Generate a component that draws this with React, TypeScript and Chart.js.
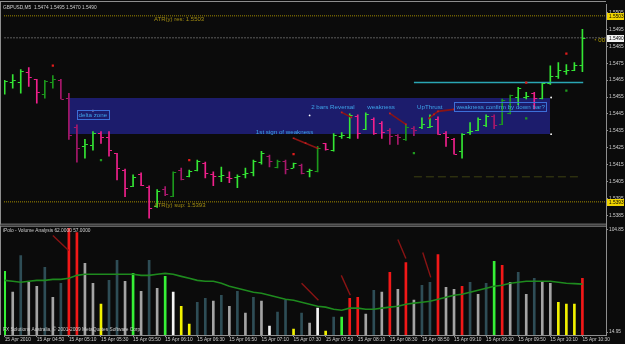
import { useEffect, useRef } from 'react';
import { Chart, registerables } from 'chart.js';

Chart.register(...registerables);

const FONT = '"Liberation Sans", Arial, sans-serif';
const BG = '#0b0b0b';

// ---------------- texts ----------------
const SYMBOL_TITLE = 'GBPUSD,M5  1.5474 1.5495 1.5470 1.5490';
const VOLUME_TITLE = 'iPolo - Volume Analysis 62.0000 57.0000';
const COPYRIGHT = 'FX Solutions Australia, \u00a9 2001-2009 MetaQuotes Software Corp.';
const TIMER_TEXT = '\u25d4 00';

// ---------------- axis ticks ----------------
const TIME_TICK_BARS = [0, 4, 8, 12, 16, 20, 24, 28, 32, 36, 40, 44, 48, 52, 56, 60, 64, 68, 72];
const TIME_TICK_LABELS = [
  '15 Apr 2010', '15 Apr 04:50', '15 Apr 05:10', '15 Apr 05:30', '15 Apr 05:50',
  '15 Apr 06:10', '15 Apr 06:30', '15 Apr 06:50', '15 Apr 07:10', '15 Apr 07:30',
  '15 Apr 07:50', '15 Apr 08:10', '15 Apr 08:30', '15 Apr 08:50', '15 Apr 09:10',
  '15 Apr 09:30', '15 Apr 09:50', '15 Apr 10:10', '15 Apr 10:30',
];
const PRICE_TICKS = [1.5505, 1.5495, 1.5485, 1.5475, 1.5465, 1.5455, 1.5445, 1.5435, 1.5425, 1.5415, 1.5405, 1.5395, 1.5385];
const VOLUME_TICKS = [14.95, 104.85];

// ---------------- price bars (M5, 04:30 .. 10:30) ----------------
const OPEN = [
  1.54607, 1.54636, 1.54636, 1.54695, 1.54654, 1.54567, 1.54636, 1.54648, 1.54543, 1.54375,
  1.54258, 1.54264, 1.54340, 1.54316, 1.54217, 1.54118, 1.54025, 1.54095, 1.54020, 1.53903,
  1.54008, 1.53967, 1.54118, 1.54084, 1.54118, 1.54159, 1.54095, 1.54084, 1.54078, 1.54078,
  1.54095, 1.54107, 1.54165, 1.54200, 1.54136, 1.54171, 1.54130, 1.54148, 1.54113, 1.54113,
  1.54276, 1.54235, 1.54322, 1.54316, 1.54439, 1.54363, 1.54421, 1.54398, 1.54357, 1.54328,
  1.54299, 1.54369, 1.54375, 1.54375, 1.54421, 1.54340, 1.54299, 1.54229, 1.54345, 1.54357,
  1.54386, 1.54439, 1.54392, 1.54456, 1.54549, 1.54549, 1.54572, 1.54543, 1.54631, 1.54677,
  1.54706, 1.54712, 1.5474,
];
const HIGH = [
  1.54648, 1.54683, 1.54712, 1.54724, 1.54654, 1.54648, 1.54677, 1.54654, 1.54572, 1.54386,
  1.54299, 1.54345, 1.54345, 1.54345, 1.54217, 1.54124, 1.54089, 1.54101, 1.54025, 1.54002,
  1.54020, 1.54107, 1.54130, 1.54118, 1.54177, 1.54165, 1.54107, 1.54136, 1.54107, 1.54089,
  1.54130, 1.54177, 1.54229, 1.54206, 1.54177, 1.54177, 1.54159, 1.54153, 1.54124, 1.54258,
  1.54276, 1.54334, 1.54340, 1.54450, 1.54444, 1.54456, 1.54427, 1.54404, 1.54363, 1.54328,
  1.54386, 1.54375, 1.54427, 1.54444, 1.54433, 1.54345, 1.54305, 1.54334, 1.54398, 1.54427,
  1.54444, 1.54444, 1.54538, 1.54561, 1.54607, 1.54578, 1.54578, 1.54636, 1.54735, 1.54753,
  1.54741, 1.54753, 1.5495,
];
const LOW = [
  1.54567, 1.54602, 1.54572, 1.54613, 1.54514, 1.54543, 1.54602, 1.54538, 1.54299, 1.54165,
  1.54188, 1.54235, 1.54276, 1.54200, 1.54060, 1.53961, 1.54020, 1.54025, 1.53833, 1.53897,
  1.53967, 1.53961, 1.54060, 1.54078, 1.54113, 1.54072, 1.54025, 1.54049, 1.54043, 1.54014,
  1.54072, 1.54084, 1.54153, 1.54136, 1.54130, 1.54095, 1.54130, 1.54095, 1.54078, 1.54107,
  1.54235, 1.54229, 1.54305, 1.54305, 1.54305, 1.54357, 1.54328, 1.54305, 1.54270, 1.54270,
  1.54293, 1.54322, 1.54363, 1.54369, 1.54328, 1.54258, 1.54212, 1.54188, 1.54328, 1.54351,
  1.54375, 1.54363, 1.54386, 1.54450, 1.54503, 1.54538, 1.54479, 1.54538, 1.54625, 1.54660,
  1.54683, 1.54706, 1.5470,
];
const CLOSE = [
  1.54642, 1.54648, 1.54706, 1.54666, 1.54578, 1.54642, 1.54654, 1.54538, 1.54328, 1.54247,
  1.54270, 1.54340, 1.54311, 1.54235, 1.54130, 1.54014, 1.54078, 1.54031, 1.53891, 1.53996,
  1.53979, 1.54107, 1.54066, 1.54113, 1.54171, 1.54101, 1.54084, 1.54089, 1.54072, 1.54084,
  1.54101, 1.54171, 1.54217, 1.54171, 1.54171, 1.54124, 1.54159, 1.54101, 1.54118, 1.54247,
  1.54241, 1.54328, 1.54328, 1.54444, 1.54340, 1.54450, 1.54340, 1.54345, 1.54322, 1.54316,
  1.54375, 1.54357, 1.54392, 1.54380, 1.54334, 1.54311, 1.54212, 1.54334, 1.54351, 1.54421,
  1.54439, 1.54386, 1.54532, 1.54561, 1.54602, 1.54555, 1.54543, 1.54631, 1.54677, 1.54712,
  1.54712, 1.54741, 1.5490,
];
// U = strong up, u = weak up, D = strong down, d = weak down
const BAR_TONE = [
  'U', 'U', 'U', 'D', 'D', 'u', 'u', 'd', 'd', 'd',
  'U', 'U', 'D', 'D', 'D', 'D', 'U', 'D', 'D', 'U',
  'd', 'u', 'd', 'U', 'U', 'D', 'D', 'U', 'D', 'U',
  'U', 'U', 'U', 'd', 'u', 'd', 'U', 'd', 'U', 'u',
  'D', 'U', 'U', 'U', 'D', 'U', 'D', 'D', 'd', 'd',
  'u', 'd', 'U', 'U', 'D', 'D', 'D', 'U', 'U', 'U',
  'U', 'd', 'u', 'u', 'U', 'U', 'D', 'U', 'U', 'U',
  'U', 'U', 'U',
];

// ---------------- volume panel ----------------
const VOLUME = [
  68.2, 49.9, 82.1, 58.6, 55.1, 71.7, 45.5, 57.7, 106, 102.2,
  75.2, 57.7, 39.4, 60.3, 77.8, 59.5, 66.4, 50.7, 77.8, 53.3,
  63.8, 49.9, 37.6, 21.9, 41.1, 44.6, 42.0, 47.2, 37.6, 50.7,
  31.5, 45.5, 42.0, 20.2, 32.4, 42.9, 17.6, 31.5, 22.8, 35.9,
  15.8, 28.0, 28.0, 44.6, 45.5, 30.7, 51.6, 49.9, 67.3, 52.5,
  76.0, 42.9, 56.0, 58.6, 83.0, 54.2, 52.5, 55.1, 58.6, 48.1,
  57.7, 76.9, 73.4, 58.6, 67.3, 48.1, 62.1, 59.5, 57.7, 41.1,
  39.4, 39.4, 62.0,
];
// L = lime, G = gray, T = slate, W = white, Y = yellow, R = red
const VOL_TONE = [
  'L', 'G', 'T', 'G', 'G', 'T', 'G', 'T', 'R', 'R',
  'G', 'G', 'Y', 'T', 'T', 'G', 'L', 'G', 'T', 'G',
  'L', 'W', 'Y', 'Y', 'T', 'T', 'G', 'T', 'G', 'T',
  'G', 'T', 'G', 'W', 'T', 'T', 'Y', 'T', 'G', 'W',
  'Y', 'T', 'L', 'R', 'R', 'G', 'T', 'G', 'R', 'G',
  'R', 'G', 'T', 'T', 'R', 'G', 'G', 'R', 'T', 'G',
  'T', 'L', 'R', 'G', 'T', 'G', 'T', 'G', 'G', 'Y',
  'Y', 'Y', 'R',
];
const VOL_MA = [
  60.3, 59.5, 58.6, 59.5, 60.3, 60.3, 61.2, 61.2, 62.1, 64.7,
  65.6, 65.6, 65.6, 65.6, 65.6, 65.6, 65.6, 64.7, 64.7, 65.6,
  66.4, 65.6, 63.8, 62.1, 60.3, 59.5, 59.5, 57.7, 55.1, 53.3,
  51.6, 49.9, 49.0, 47.2, 45.5, 43.7, 42.9, 41.1, 39.4, 37.6,
  36.8, 35.0, 34.1, 35.9, 35.9, 35.0, 35.0, 35.9, 36.8, 37.6,
  39.4, 40.3, 41.1, 42.0, 43.7, 45.5, 47.2, 48.1, 49.9, 51.6,
  53.3, 55.1, 56.0, 57.7, 58.6, 59.5, 59.5, 59.5, 59.5, 58.6,
  57.7, 57.4, 57.0,
];

// ---------------- levels & objects ----------------
const ATR_RES = 1.5503;
const ATR_SUP = 1.5393;
const LAST_PRICE = 1.5490;
const ATR_LABEL_BAR = 18.6;
const TARGET_LEVEL = 1.54636;
const TARGET_BARS = [51, 72.1];
const LOWER_DASH_LEVEL = 1.54078;
const LOWER_DASH_BARS = [51, 71.8];
const ZONE_BARS = [8, 68];
const ZONE_PRICES = [1.54543, 1.54328];

const RED_MARK_BARS = [6, 23, 36, 65, 70];
const RED_MARK_PRICES = [1.54735, 1.54177, 1.54212, 1.54635, 1.54806];
const GREEN_MARK_BARS = [12, 51, 65, 70];
const GREEN_MARK_PRICES = [1.54177, 1.54218, 1.54424, 1.54588];
const DOT_BARS = [11, 38, 68.1, 68.1];
const DOT_PRICES = [1.54470, 1.54441, 1.54547, 1.54330];

const NOTE_TEXT = ['delta zone', '2 bars Reversal', 'weakness', '1st sign of weakness', 'UpThrust', 'weakness confirm by down bar?'];
const NOTE_BAR = [9.2, 38.2, 45.2, 31.3, 51.4, 56.3];
const NOTE_PRICE = [1.54441, 1.54488, 1.54488, 1.54342, 1.54488, 1.54491];
const NOTE_BOXED = [true, false, false, false, false, true];

const PRICE_ARROWS = [
  [[36, 1.54306], [37.5, 1.54277], [39, 1.54247]],
  [[42, 1.54459], [43.2, 1.54430]],
  [[48, 1.54453], [50, 1.54388]],
  [[52.9, 1.54424], [53.5, 1.54447], [54, 1.54465], [56, 1.54477]],
];
const VOLUME_ARROWS = [
  [[6.0, 99.6], [7.97, 86.5]],
  [[37.0, 57.7], [39.1, 42.9]],
  [[41.95, 64.7], [43.07, 47.2]],
  [[49.0, 96.1], [50.0, 79.5]],
  [[52.1, 84.8], [53.1, 62.9]],
];

// ---------------- styling ----------------
const X_MIN = -0.087;
const X_MAX = 74.94;
const PRICE_COLORS: Record<string, string> = { U: '#34e634', u: '#1c981c', D: '#f0208c', d: '#a8186c' };
const VOL_COLORS: Record<string, string> = { L: '#36f036', G: '#a4a4a4', T: '#2e4d56', W: '#f4f4f4', Y: '#f2f200', R: '#f21818' };
const NOTE_COLOR = '#3ea4ea';
const AXIS_COLOR = '#8e8e8e';
const LABEL_COLOR = '#cfcfcf';

const mt4Plugin = {
  id: 'mt4',
  beforeDraw(chart: any) {
    const { ctx, width, height } = chart;
    ctx.save();
    ctx.fillStyle = BG;
    ctx.fillRect(0, 0, width, height);
    ctx.restore();
  },
  beforeDatasetsDraw(chart: any) {
    const { ctx } = chart;
    const x = chart.scales.x;
    const y = chart.scales.y;
    const x0 = x.getPixelForValue(ZONE_BARS[0]);
    const x1 = x.getPixelForValue(ZONE_BARS[1]);
    const y0 = y.getPixelForValue(ZONE_PRICES[0]);
    const y1 = y.getPixelForValue(ZONE_PRICES[1]);
    ctx.save();
    ctx.fillStyle = '#1c1c6c';
    ctx.fillRect(Math.round(x0), Math.round(y0), Math.round(x1 - x0), Math.round(y1 - y0));
    ctx.restore();
  },
  afterDatasetsDraw(chart: any) {
    const { ctx, chartArea } = chart;
    const x = chart.scales.x;
    const y = chart.scales.y;
    ctx.save();
    ctx.beginPath();
    ctx.rect(chartArea.left, y.top, chartArea.right - chartArea.left, y.bottom - y.top);
    ctx.clip();
    // open / close ticks
    for (let i = 0; i < OPEN.length; i++) {
      const px = x.getPixelForValue(i);
      ctx.fillStyle = PRICE_COLORS[BAR_TONE[i]];
      ctx.fillRect(px - 3, Math.round(y.getPixelForValue(OPEN[i])), 2.5, 1);
      ctx.fillRect(px + 0.5, Math.round(y.getPixelForValue(CLOSE[i])), 2.5, 1);
    }
    // notes
    ctx.textBaseline = 'middle';
    ctx.textAlign = 'left';
    ctx.font = `6.2px ${FONT}`;
    NOTE_TEXT.forEach((s, k) => {
      const nx = x.getPixelForValue(NOTE_BAR[k]);
      const ny = y.getPixelForValue(NOTE_PRICE[k]);
      if (NOTE_BOXED[k]) {
        const w = ctx.measureText(s).width;
        ctx.strokeStyle = '#3c6fd8';
        ctx.lineWidth = 1;
        ctx.strokeRect(Math.round(nx) - 1.5, Math.round(ny) - 4.5, Math.ceil(w) + 3, 9);
      }
      ctx.fillStyle = NOTE_COLOR;
      ctx.fillText(s, nx, ny);
    });
    // ATR labels
    ctx.font = `6px ${FONT}`;
    ctx.fillStyle = '#a48e12';
    const ax = x.getPixelForValue(ATR_LABEL_BAR);
    ctx.fillText(`ATR(y) res: ${ATR_RES.toFixed(4)}`, ax, y.getPixelForValue(ATR_RES) + 3.5);
    ctx.fillText(`ATR(y) sup: ${ATR_SUP.toFixed(4)}`, ax, y.getPixelForValue(ATR_SUP) + 3.5);
    // timer
    ctx.fillStyle = '#b8a400';
    ctx.font = `6px ${FONT}`;
    ctx.textAlign = 'right';
    ctx.fillText(TIMER_TEXT, x.getPixelForValue(X_MAX) - 1, y.getPixelForValue(LAST_PRICE) + 3);
    ctx.restore();
  },
  afterDraw(chart: any) {
    const { ctx, chartArea } = chart;
    const y = chart.scales.y;
    const yv = chart.scales.yv;
    ctx.save();
    ctx.fillStyle = AXIS_COLOR;
    ctx.fillRect(0, 1, chartArea.right, 1);
    ctx.fillRect(0, 1, 1, chartArea.bottom - 1);
    ctx.fillRect(0, y.bottom - 1, chartArea.right, 1);
    ctx.fillRect(0, y.bottom + 1, chartArea.right, 1);
    ctx.fillStyle = '#404040';
    ctx.fillRect(0, y.bottom, chartArea.right, 1);

    const box = (price: number, bg: string) => {
      const py = Math.round(y.getPixelForValue(price));
      ctx.fillStyle = bg;
      ctx.fillRect(y.left + 1, py - 3, 17, 7);
      ctx.fillStyle = '#000000';
      ctx.font = `4.8px ${FONT}`;
      ctx.textBaseline = 'middle';
      ctx.textAlign = 'left';
      ctx.fillText(price.toFixed(4), y.left + 3, py + 0.5);
    };
    box(ATR_RES, '#f0d400');
    box(LAST_PRICE, '#f2f2f2');
    box(ATR_SUP, '#f0d400');

    ctx.font = `4.8px ${FONT}`;
    ctx.fillStyle = LABEL_COLOR;
    ctx.textBaseline = 'middle';
    ctx.textAlign = 'left';
    ctx.fillText(SYMBOL_TITLE, 3, y.top + 3.5);
    ctx.fillText(VOLUME_TITLE, 3, yv.top + 6);
    ctx.fillText(COPYRIGHT, 3, yv.bottom - 5);
    ctx.restore();
  },
};

function levelLine(price: number, color: string, dash: number[], from: number, to: number, width: number, order: number) {
  return {
    type: 'line',
    yAxisID: 'y',
    data: [{ x: from, y: price }, { x: to, y: price }],
    borderColor: color,
    borderDash: dash,
    borderWidth: width,
    pointRadius: 0,
    order,
  };
}

export default function App() {
  const ref = useRef<HTMLCanvasElement | null>(null);

  useEffect(() => {
    const canvas = ref.current;
    if (!canvas) return;

    const datasets: any[] = [
      levelLine(ATR_RES, '#a08a00', [1, 1], X_MIN, X_MAX, 1, 5),
      levelLine(LAST_PRICE, '#5c5c5c', [2, 1], X_MIN, X_MAX, 1, 5),
      levelLine(ATR_SUP, '#a08a00', [1, 1], X_MIN, X_MAX, 1, 5),
      levelLine(LOWER_DASH_LEVEL, '#3e4212', [8, 4], LOWER_DASH_BARS[0], LOWER_DASH_BARS[1], 1, 5),
      {
        type: 'bar',
        yAxisID: 'y',
        data: OPEN.map((_, i) => ({ x: i, y: [LOW[i], HIGH[i]] })),
        backgroundColor: BAR_TONE.map((t) => PRICE_COLORS[t]),
        barThickness: 1,
        grouped: false,
        borderWidth: 0,
        order: 2,
      },
      levelLine(TARGET_LEVEL, '#2aa6b4', [], TARGET_BARS[0], TARGET_BARS[1], 1.6, 1),
      ...PRICE_ARROWS.map((pts) => ({
        type: 'line',
        yAxisID: 'y',
        data: pts.map(([bx, p]) => ({ x: bx, y: p })),
        borderColor: '#8a1414',
        borderWidth: 1.6,
        pointRadius: 1.2,
        pointStyle: 'rect',
        pointBackgroundColor: '#c01e1e',
        pointBorderWidth: 0,
        order: 0,
      })),
      {
        type: 'scatter',
        yAxisID: 'y',
        data: RED_MARK_BARS.map((b, k) => ({ x: b, y: RED_MARK_PRICES[k] })),
        pointStyle: 'rect',
        pointRadius: 1.6,
        backgroundColor: '#e01c1c',
        borderWidth: 0,
        order: 0,
      },
      {
        type: 'scatter',
        yAxisID: 'y',
        data: GREEN_MARK_BARS.map((b, k) => ({ x: b, y: GREEN_MARK_PRICES[k] })),
        pointStyle: 'rect',
        pointRadius: 1.6,
        backgroundColor: '#1f9a1f',
        borderWidth: 0,
        order: 0,
      },
      {
        type: 'scatter',
        yAxisID: 'y',
        data: DOT_BARS.map((b, k) => ({ x: b, y: DOT_PRICES[k] })),
        pointStyle: 'circle',
        pointRadius: 0.9,
        backgroundColor: '#ffffff',
        borderWidth: 0,
        order: 0,
      },
      {
        type: 'bar',
        yAxisID: 'yv',
        data: VOLUME.map((v, i) => ({ x: i, y: v })),
        backgroundColor: VOL_TONE.map((t) => VOL_COLORS[t]),
        barThickness: 2,
        grouped: false,
        borderWidth: 0,
        order: 2,
      },
      {
        type: 'line',
        yAxisID: 'yv',
        data: VOL_MA.map((v, i) => ({ x: i, y: v })),
        borderColor: '#1e8a1e',
        borderWidth: 1.6,
        pointRadius: 0,
        order: 1,
      },
      ...VOLUME_ARROWS.map((pts) => ({
        type: 'line',
        yAxisID: 'yv',
        data: pts.map(([bx, v]) => ({ x: bx, y: v })),
        borderColor: '#8a1414',
        borderWidth: 1.4,
        pointRadius: 0,
        order: 0,
      })),
    ];

    const tickFont = { family: FONT, size: 4.8 };

    const chart = new Chart(canvas, {
      type: 'bar',
      data: { datasets },
      plugins: [mt4Plugin],
      options: {
        animation: false,
        responsive: false,
        devicePixelRatio: 1,
        events: [],
        layout: { padding: { left: 1, top: 2, right: 0, bottom: 0 } },
        plugins: { legend: { display: false }, tooltip: { enabled: false } },
        scales: {
          x: {
            type: 'linear',
            min: X_MIN,
            max: X_MAX,
            offset: false,
            position: 'bottom',
            grid: { display: true, drawOnChartArea: false, drawTicks: true, tickLength: 2, color: AXIS_COLOR, offset: false },
            border: { display: true, color: AXIS_COLOR },
            ticks: {
              autoSkip: false,
              maxRotation: 0,
              minRotation: 0,
              align: 'start',
              padding: 0,
              color: LABEL_COLOR,
              font: tickFont,
              callback: (v: any) => {
                const k = TIME_TICK_BARS.indexOf(Number(v));
                return k >= 0 ? TIME_TICK_LABELS[k] : '';
              },
            },
            afterBuildTicks: (s: any) => {
              s.ticks = TIME_TICK_BARS.map((v) => ({ value: v }));
            },
            afterFit: (s: any) => {
              s.height = 9;
            },
          },
          y: {
            type: 'linear',
            position: 'right',
            stack: 'panes',
            stackWeight: 222,
            min: 1.53795,
            max: 1.551,
            beginAtZero: false,
            grid: { display: true, drawOnChartArea: false, drawTicks: true, tickLength: 2, color: AXIS_COLOR },
            border: { display: true, color: AXIS_COLOR },
            ticks: { padding: 1, color: LABEL_COLOR, font: tickFont, callback: (v: any) => Number(v).toFixed(4) },
            afterBuildTicks: (s: any) => {
              s.ticks = PRICE_TICKS.map((v) => ({ value: v }));
            },
            afterFit: (s: any) => {
              s.width = 19;
            },
          },
          yv: {
            type: 'linear',
            position: 'right',
            stack: 'panes',
            stackWeight: 111,
            min: 12.33,
            max: 109.19,
            beginAtZero: false,
            grid: { display: true, drawOnChartArea: false, drawTicks: true, tickLength: 2, color: AXIS_COLOR },
            border: { display: true, color: AXIS_COLOR },
            ticks: { padding: 1, color: LABEL_COLOR, font: tickFont, callback: (v: any) => Number(v).toFixed(2) },
            afterBuildTicks: (s: any) => {
              s.ticks = VOLUME_TICKS.map((v) => ({ value: v }));
            },
            afterFit: (s: any) => {
              s.width = 19;
            },
          },
        },
      } as any,
    });

    return () => chart.destroy();
  }, []);

  return (
    <div style={{ position: 'fixed', left: 0, top: 0, width: 625, height: 344, background: BG }}>
      <canvas ref={ref} width={625} height={344} style={{ display: 'block', width: 625, height: 344 }} />
    </div>
  );
}
